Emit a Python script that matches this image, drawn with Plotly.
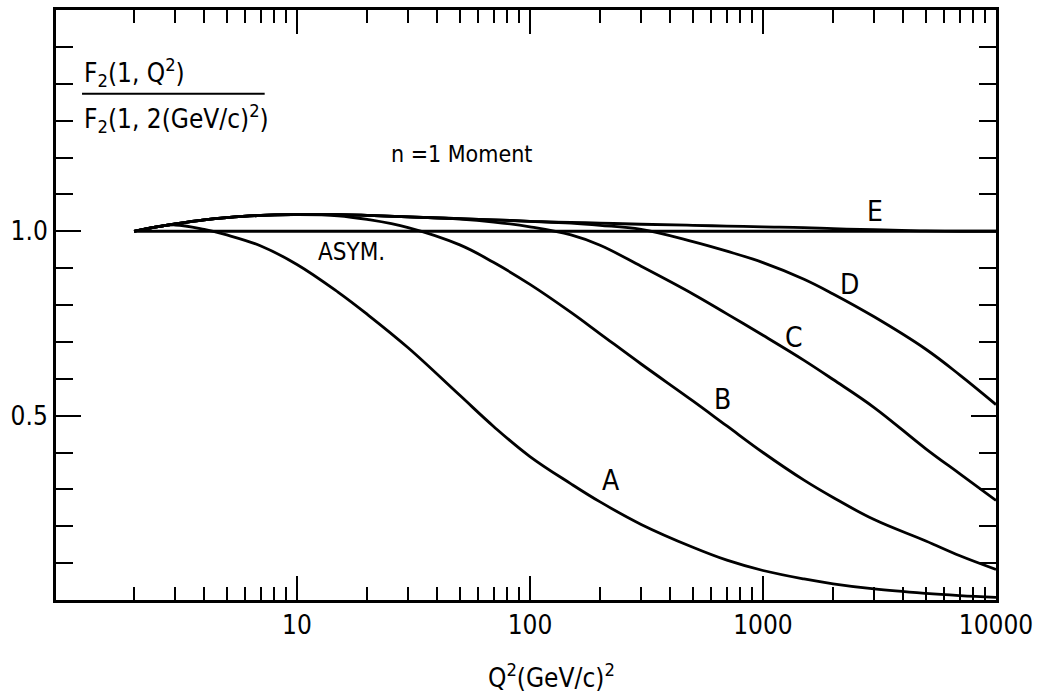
import math
import plotly.graph_objects as go

# ---- data ----
q2 = [2, 2.5, 3, 4, 5, 7, 10, 15, 20, 30, 50, 70, 100, 150, 200, 300, 500, 700,
      1000, 1500, 2000, 3000, 5000, 7000, 10000]

curve_A = [1.0, 1.012, 1.017, 1.005, 0.99, 0.96, 0.91, 0.835, 0.775, 0.684, 0.555, 0.47,
           0.389, 0.315, 0.266, 0.205, 0.143, 0.108, 0.08, 0.057, 0.044, 0.03, 0.018, 0.012, 0.007]
curve_B = [1.0, 1.012, 1.02, 1.031, 1.037, 1.043, 1.045, 1.042, 1.032, 1.01, 0.963, 0.915,
           0.856, 0.78, 0.722, 0.64, 0.54, 0.472, 0.4, 0.325, 0.278, 0.218, 0.16, 0.12, 0.083]
curve_C = [1.0, 1.012, 1.02, 1.031, 1.037, 1.043, 1.045, 1.045, 1.043, 1.039, 1.033, 1.025,
           1.012, 0.99, 0.962, 0.905, 0.83, 0.776, 0.718, 0.65, 0.598, 0.522, 0.41, 0.342, 0.27]
curve_D = [1.0, 1.012, 1.02, 1.031, 1.037, 1.043, 1.045, 1.045, 1.043, 1.039, 1.034, 1.031,
           1.027, 1.022, 1.016, 1.005, 0.972, 0.946, 0.915, 0.87, 0.83, 0.768, 0.68, 0.61, 0.53]
curve_E = [1.0, 1.012, 1.02, 1.031, 1.037, 1.043, 1.045, 1.045, 1.043, 1.039, 1.034, 1.031,
           1.027, 1.024, 1.022, 1.019, 1.016, 1.014, 1.012, 1.010, 1.007, 1.004, 1.001, 1.0, 1.0]
asym_q2 = [2, 10000]
asym_val = [1.0, 1.0]

curves = {"A": curve_A, "B": curve_B, "C": curve_C, "D": curve_D, "E": curve_E}

# curve label positions (Q^2, value)
label_names = ["A", "B", "C", "D", "E"]
label_q2 = [223, 667, 1358, 2340, 3030]
label_val = [0.323, 0.543, 0.712, 0.856, 1.054]

asym_label_q2, asym_label_val = 17.2, 0.943
moment_label_q2, moment_label_val = 50.6, 1.209

x_major = [10, 100, 1000, 10000]
x_major_text = ["10", "100", "1000", "10000"]
x_minor = [m * d for d in [1, 10, 100, 1000] for m in range(2, 10)]
y_major = [0.5, 1.0]
y_major_text = ["0.5", "1.0"]
y_minor = [0.1, 0.2, 0.3, 0.4, 0.6, 0.7, 0.8, 0.9, 1.1, 1.2, 1.3, 1.4, 1.5]

FONT = "DejaVu Sans Condensed, Liberation Sans Narrow, sans-serif"
FS = 26

fig = go.Figure()
fig.add_trace(go.Scatter(x=asym_q2, y=asym_val, mode="lines",
                         line=dict(color="black", width=3), showlegend=False))
for name, vals in curves.items():
    fig.add_trace(go.Scatter(x=q2, y=vals, mode="lines", line_shape="spline",
                             line=dict(color="black", width=2.8, smoothing=1.1),
                             showlegend=False))

annotations = []
for n, xq, yv in zip(label_names, label_q2, label_val):
    annotations.append(dict(x=math.log10(xq), y=yv, xref="x", yref="y", text=n, showarrow=False,
                            font=dict(family=FONT, size=28, color="black")))
annotations.append(dict(x=math.log10(asym_label_q2), y=asym_label_val, xref="x", yref="y",
                        text="ASYM.", showarrow=False,
                        font=dict(family=FONT, size=24, color="black")))
annotations.append(dict(x=math.log10(moment_label_q2), y=moment_label_val, xref="x", yref="y",
                        text="n =1 Moment", showarrow=False,
                        font=dict(family=FONT, size=23, color="black")))
# y-axis title as a fraction
annotations.append(dict(x=0.0277, y=0.894, xref="paper", yref="paper", xanchor="left",
                        yanchor="middle", text="F<sub>2</sub>(1, Q<sup>2</sup>)",
                        showarrow=False, font=dict(family=FONT, size=FS, color="black")))
annotations.append(dict(x=0.0277, y=0.816, xref="paper", yref="paper", xanchor="left",
                        yanchor="middle", text="F<sub>2</sub>(1, 2(GeV/c)<sup>2</sup>)",
                        showarrow=False, font=dict(family=FONT, size=FS, color="black")))
# x-axis title
annotations.append(dict(x=0.527, y=-0.128, xref="paper", yref="paper", xanchor="center",
                        yanchor="middle", text="Q<sup>2</sup>(GeV/c)<sup>2</sup>",
                        showarrow=False, font=dict(family=FONT, size=FS, color="black")))

fig.update_layout(
    width=1042, height=698,
    margin=dict(l=56, r=46, t=7, b=98),
    paper_bgcolor="white", plot_bgcolor="white",
    annotations=annotations,
    shapes=[dict(type="line", xref="paper", yref="paper", x0=0.0277, x1=0.222,
                 y0=0.858, y1=0.858, line=dict(color="black", width=2))],
    font=dict(family=FONT, size=FS, color="black"),
)
fig.update_xaxes(type="log", range=[-0.034, 4.0], tickmode="array", tickvals=x_major,
                 ticktext=x_major_text, ticks="inside", ticklen=24, tickwidth=2,
                 tickcolor="black", showline=True, linewidth=3, linecolor="black",
                 mirror="allticks", showgrid=False, zeroline=False,
                 tickfont=dict(family=FONT, size=FS, color="black"),
                 minor=dict(tickmode="array", tickvals=x_minor, ticks="inside", ticklen=13,
                            tickwidth=2, tickcolor="black", showgrid=False))
fig.update_yaxes(range=[0, 1.6], tickmode="array", tickvals=y_major, ticktext=y_major_text,
                 ticks="inside", ticklen=25, tickwidth=2, tickcolor="black", showline=True,
                 linewidth=3, linecolor="black", mirror="allticks", showgrid=False,
                 zeroline=False, tickfont=dict(family=FONT, size=FS, color="black"),
                 minor=dict(tickmode="array", tickvals=y_minor, ticks="inside", ticklen=17,
                            tickwidth=2, tickcolor="black", showgrid=False))

fig.write_html("out.html")
